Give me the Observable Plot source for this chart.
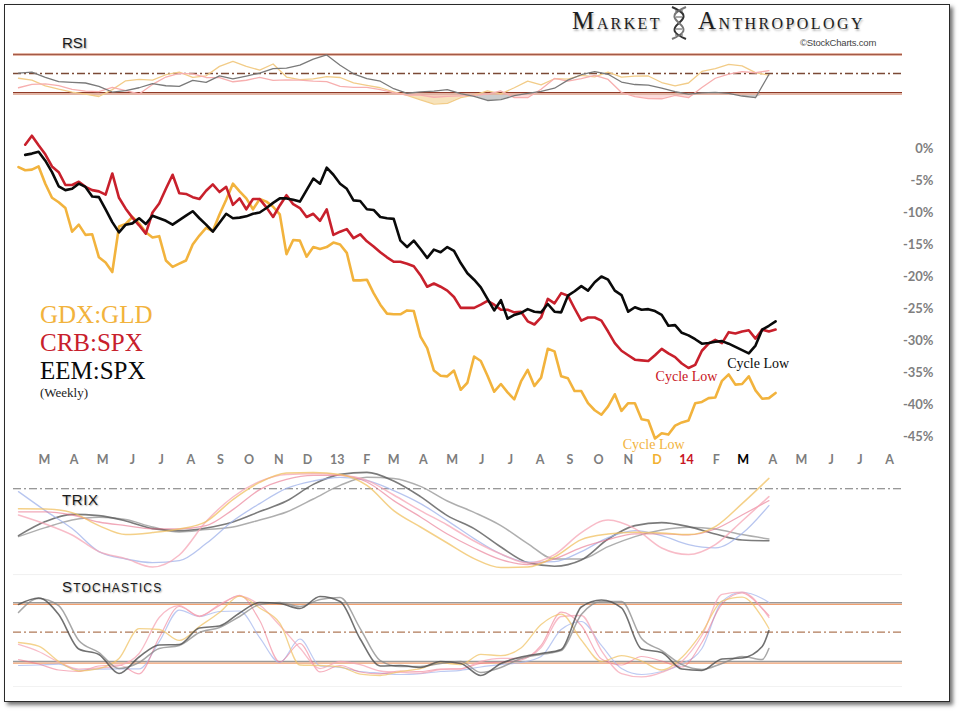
<!DOCTYPE html>
<html><head><meta charset="utf-8">
<script src="https://cdn.jsdelivr.net/npm/d3@7"></script>
<script src="https://cdn.jsdelivr.net/npm/@observablehq/plot@0.6"></script>
<style>
html,body{margin:0;padding:0;background:#fff;}
#page{position:relative;width:963px;height:713px;overflow:hidden;background:#fff;}
#frame{position:absolute;left:4px;top:4px;width:944px;height:696px;border:1.5px solid #2a2a2a;box-shadow:3px 3px 4px rgba(0,0,0,.55);}
.panel{position:absolute;left:0;}
.panel svg{overflow:visible;}
.lbl{position:absolute;font-family:"Liberation Sans",Arial,sans-serif;color:#1a1a1a;text-shadow:1px 1px 1.5px rgba(0,0,0,.35);white-space:nowrap;}
.leg{position:absolute;left:40px;font-family:"Liberation Serif","Times New Roman",serif;font-size:25px;line-height:25px;white-space:nowrap;}
#title{position:absolute;left:572px;top:7px;font-family:"Liberation Serif",serif;color:#1e1e1e;white-space:nowrap;text-shadow:1px 2px 2px rgba(0,0,0,.3);letter-spacing:2.4px;}
#title .big{font-size:25px;} #title .sm{font-size:16px;}
</style></head>
<body><div id="page">
<div id="frame"></div>
<div id="rsi" class="panel" style="top:40px"></div>
<div id="main" class="panel" style="top:110px"></div>
<div id="trix" class="panel" style="top:465px"></div>
<div id="stoch" class="panel" style="top:575px"></div>

<div id="title"><span class="big">M</span><span class="sm">ARKET</span><span style="display:inline-block;width:36px"></span><span class="big">A</span><span class="sm">NTHROPOLOGY</span></div>
<svg style="position:absolute;left:667px;top:6px" width="24" height="34" viewBox="0 0 24 34">
 <path d="M5,1 C19,7 19,11 12,17 C5,23 5,27 19,33" fill="none" stroke="#333" stroke-width="2"/>
 <path d="M19,1 C5,7 5,11 12,17 C19,23 19,27 5,33" fill="none" stroke="#777" stroke-width="2"/>
 <path d="M8,5 L16,5 M9,11 L15,11 M9,23 L15,23 M8,29 L16,29" stroke="#555" stroke-width="1"/>
</svg>
<div class="lbl" style="left:800px;top:37px;font-size:9.5px;color:#444;text-shadow:none;letter-spacing:-0.2px">©StockCharts.com</div>
<div class="lbl" style="left:62px;top:35px;font-size:15px;line-height:16px">RSI</div>
<div class="lbl" style="left:62px;top:492px;font-size:15px;line-height:16px;letter-spacing:0.6px">TRIX</div>
<div class="lbl" style="left:62px;top:579px;line-height:16px;letter-spacing:1.2px"><span style="font-size:15px">S</span><span style="font-size:12px">TOCHASTICS</span></div>

<div class="leg" style="top:302px;color:#F2B33D">GDX:GLD</div>
<div class="leg" style="top:330px;color:#C8202C">CRB:SPX</div>
<div class="leg" style="top:358px;color:#0a0a0a">EEM:SPX</div>
<div class="leg" style="top:386px;font-size:13px;line-height:13px;color:#222">(Weekly)</div>
</div>
<script>
// ---------- data ----------
const firstWeek = Date.UTC(2012, 1, 3); // weekly closes, week 0
// GDX:GLD, weeks 0..113 (% change)
const gdxGld = [-2.9,-3.4,-3.3,-2.8,-5.5,-7.7,-8.4,-9.3,-13.0,-11.9,
 -13.5,-13.4,-17.0,-17.8,-19.3,-12.2,-11.8,-10.7,-11.7,-13.1,
 -13.9,-13.7,-17.5,-18.5,-18.0,-17.5,-15.0,-13.6,-12.4,-12.9,
 -10.3,-8.0,-5.5,-6.7,-7.8,-9.5,-7.9,-8.3,-9.1,-10.3,
 -16.5,-14.3,-14.4,-16.9,-15.4,-15.7,-15.4,-14.7,-15.0,-16.3,
 -20.6,-20.6,-20.5,-22.6,-24.4,-25.8,-25.9,-25.9,-25.3,-25.4,
 -29.4,-31.2,-34.7,-35.5,-35.6,-34.7,-37.7,-36.6,-32.5,-33.2,
 -35.5,-38.0,-36.8,-38.1,-39.2,-36.4,-34.6,-37.1,-35.8,-31.3,
 -31.7,-35.6,-35.9,-37.9,-37.9,-39.8,-40.9,-41.6,-40.3,-38.4,
 -41.0,-39.8,-39.8,-42.3,-42.5,-45.3,-44.5,-44.7,-43.3,-42.8,
 -42.5,-39.8,-39.6,-39.0,-38.9,-36.3,-35.3,-36.9,-36.8,-35.6,
 -37.8,-39.1,-39.0,-38.2];
// CRB:SPX, weeks 1..113
const crbSpx = [0.6,2.0,0.5,-0.9,-2.8,-3.7,-5.7,-5.7,-5.2,-6.0,
 -6.5,-6.7,-7.2,-3.9,-7.7,-9.4,-10.8,-12.0,-13.3,-10.0,
 -8.6,-6.3,-4.1,-7.0,-7.1,-7.6,-7.9,-6.6,-5.6,-6.8,
 -6.0,-8.8,-7.8,-9.5,-7.9,-7.9,-9.2,-10.7,-8.9,-7.3,
 -8.7,-9.3,-10.7,-10.2,-11.3,-9.5,-13.5,-13.0,-12.6,-14.0,
 -13.4,-14.5,-15.3,-16.2,-17.0,-17.7,-17.7,-18.0,-18.4,-19.8,
 -21.6,-21.1,-21.6,-22.2,-23.2,-24.9,-24.9,-24.9,-24.4,-23.8,
 -24.4,-25.2,-25.2,-25.6,-25.5,-27.0,-27.5,-26.4,-23.5,-24.2,
 -22.6,-23.0,-25.0,-26.9,-26.4,-26.4,-26.9,-28.6,-30.4,-31.6,
 -32.3,-33.0,-33.1,-33.2,-32.3,-31.3,-32.0,-32.6,-33.6,-34.3,
 -33.8,-31.6,-30.5,-29.9,-30.4,-28.7,-28.9,-28.6,-28.4,-29.7,
 -28.3,-28.6,-28.3];
// EEM:SPX, weeks 1..113
const eemSpx = [-1.0,-0.8,-0.5,-1.9,-3.7,-5.9,-6.5,-6.3,-5.5,-6.0,
 -7.5,-7.6,-9.5,-11.5,-13.1,-11.9,-11.7,-10.9,-11.8,-10.5,
 -10.9,-11.3,-11.9,-11.2,-10.5,-9.8,-10.9,-11.9,-13.0,-11.6,
 -10.2,-10.9,-10.8,-10.6,-10.2,-10.0,-9.3,-8.5,-7.8,-7.8,
 -8.0,-8.3,-6.5,-4.7,-5.5,-3.0,-4.1,-5.5,-6.3,-8.1,
 -8.2,-9.5,-9.6,-10.7,-10.9,-11.0,-14.4,-15.4,-14.4,-15.7,
 -17.1,-15.8,-16.2,-15.4,-16.0,-17.9,-19.5,-20.5,-21.7,-23.5,
 -25.3,-23.7,-26.6,-26.0,-25.7,-25.1,-25.5,-25.6,-24.3,-25.5,
 -25.6,-23.0,-22.3,-21.5,-22.2,-20.9,-20.0,-20.5,-22.2,-22.9,
 -25.5,-24.8,-25.2,-25.1,-25.4,-26.0,-27.7,-27.6,-28.8,-29.2,
 -29.8,-30.5,-30.4,-30.2,-30.1,-30.5,-31.0,-31.5,-32.0,-30.8,
 -28.3,-27.7,-27.0];
const yTicks = [0,-5,-10,-15,-20,-25,-30,-35,-40,-45];
const monthLabels = ["M","A","M","J","J","A","S","O","N","D","13","F","M","A","M","J","J","A","S","O","N","D","14","F","M","A","M","J","J","A"];
const cycleLows = [
  {label:"Cycle Low", series:"GDX:GLD", week:94.8, v:-46.2},
  {label:"Cycle Low", series:"CRB:SPX", week:99.7, v:-35.6},
  {label:"Cycle Low", series:"EEM:SPX", week:110.4, v:-33.6}
];
// RSI (every 2 weeks, 0..112)
const rsiWeeks = d3.range(0, 113, 2);
const rsiEem = [50.3,51.5,46,41.5,40.7,40,36.5,30.5,32,35,39.3,37.1,36.5,42.8,40.7,47.5,44.3,47.3,50.4,55.2,
 55.6,58.9,65.2,69.5,58.7,49.7,44.7,41.9,34,29.2,30.6,31.4,33.1,28.7,26,21.6,22.5,26.6,29.1,31.1,
 34.5,43,48.7,52,49.2,41,38.4,37.8,34.7,30.8,28.2,29.6,30.1,29,26.3,24.5,49];
const rsiGdx = [45,43,37,33.5,30.5,28.2,25.8,33,42.3,43.8,43.1,48.7,51.4,46,47.6,57.5,62.7,57.4,53.6,60,
 46.3,43.5,44.3,46.8,45.8,40.2,37.5,35,30.7,27,22.2,17.8,18.5,24.7,27.2,31.8,28.5,35,42,38,
 44.5,44,48,46.5,51.5,46.2,47.2,47.4,40.5,37,40,52.2,55.2,59.6,58,51,48.2];
const rsiCrb = [35,38.5,39,37.2,33.4,31.5,30.9,35.5,32,28.5,38.5,46.3,50.1,49.7,45.8,45.7,41.3,42.9,45.9,42.8,
 43.3,43,42,41.5,36.4,35.5,35.5,33,29.8,27.2,27.2,25,26,26.4,26.9,28.2,31.6,24.6,24.5,33.5,
 44.8,42,44.5,48,43.7,30,25.6,23.5,23.4,27.1,24.5,35.3,45,49.3,52,50.8,53];
// TRIX (every 4 weeks, 0..112)
const trixWeeks = d3.range(0, 113, 4);
const trixGdx = [-1.00,-1.01,-1.19,-1.84,-2.29,-2.19,-2.01,-1.64,-0.54,0.32,0.79,0.82,0.72,0.17,-1.09,-1.91,-2.71,-3.49,-3.94,-3.91,-3.41,-2.54,-2.26,-2.17,-2.21,-2.29,-1.89,-0.74,0.52];
const trixCrbFast = [-1.31,-1.76,-2.31,-3.14,-3.49,-3.91,-3.31,-1.64,-0.41,0.37,0.72,0.75,0.69,0.42,-0.31,-1.09,-1.81,-2.61,-3.26,-3.71,-3.29,-2.19,-1.56,-1.99,-2.96,-3.29,-2.79,-1.61,-0.39];
const trixCrb = [-1.15,-1.15,-1.31,-1.66,-1.84,-2.00,-2.00,-1.84,-1.04,-0.04,0.47,0.67,0.67,0.34,-0.59,-1.41,-2.26,-2.96,-3.54,-3.79,-3.51,-2.94,-2.54,-2.25,-2.25,-2.30,-2.01,-1.31,-0.59];
const trixBlue = [-0.14,-1.09,-1.99,-3.14,-3.51,-3.69,-3.59,-2.74,-1.61,-0.74,0.02,0.39,0.57,0.42,-0.09,-0.74,-1.59,-2.49,-3.26,-3.67,-3.64,-3.14,-2.44,-2.09,-2.34,-2.79,-2.95,-2.24,-0.84];
const trixEem = [-2.34,-1.64,-1.28,-1.34,-1.61,-1.99,-2.09,-1.96,-1.66,-1.14,-0.61,0.22,0.72,0.82,0.39,-0.39,-1.34,-1.99,-2.91,-3.69,-3.87,-3.56,-2.51,-1.84,-1.69,-1.89,-2.26,-2.56,-2.60];
const trixEemSig = [-2.39,-1.94,-1.56,-1.42,-1.54,-1.91,-2.16,-2.04,-1.91,-1.56,-1.16,-0.51,0.17,0.58,0.52,0.12,-0.61,-1.18,-1.84,-2.74,-3.51,-3.51,-2.89,-2.39,-2.06,-1.92,-2.01,-2.29,-2.51];
// Stochastics (every 3 weeks, 0..111, then 112)
const stochWeeks = d3.range(0, 112, 3).concat([112]);
const stochEem = [78.3,84.9,68.0,32.8,27.2,7.7,24.6,36.9,37.4,54.2,56.3,69.6,80.3,79.3,74.2,86.4,81.3,43.0,15.4,15.9,
 13.9,20,18,5.7,18,24.6,28.2,32.3,75.7,82.9,74.7,32.8,29.2,12.3,10.8,22.6,23.6,35.3,51.7];
const stochEemSig = [70.1,84.4,77.2,41.5,29.2,12.8,19.0,33.3,36.4,49.6,54.7,66.0,78.3,80.3,76.2,83.4,85.4,53.7,21.0,14.9,
 14.9,18.0,20.0,8.8,13.9,23.1,27.2,31.2,68.0,81.3,81.3,43.5,31.2,16.9,11.8,18.0,25.1,22.0,33.3];
const stochGdx = [39.4,35.8,20,10.3,12.8,23.1,53.7,52.7,41.5,55.8,70.1,86.9,74.7,59.3,16.4,15.9,14.4,7.2,5.7,9.8,
 12.8,18.5,16.9,27.2,26.1,33.8,57.8,68.5,42.0,20,26.1,20.5,11.3,24.1,49.6,81.8,85.9,65.0,53.7];
const stochCrbFast = [37.4,30.2,19.5,12.3,13.4,15.9,28.2,65.0,77.2,66.0,78.3,86.9,77.7,56.8,33.8,12.8,20,16.9,10.3,8.8,
 8.2,11.8,12.5,20,23.1,23.1,34.3,66.0,67.0,31.2,7.7,4.2,8.8,20,46.6,88.5,91.0,74.2,65.0];
const stochCrb = [22.0,17.4,11.3,9.8,15.4,16.4,7.4,44.5,76.2,66.5,77.2,87.5,61.9,19.5,38.4,9.3,15.9,9.3,7.4,10.3,
 9.8,12.3,12.5,18,19.5,21.5,36.4,70.4,56.8,22.6,16.4,25.1,20.5,14.4,39.4,78.8,90.0,74.2,67.0];
const stochBlue = [15.9,16.4,17.4,11.3,12.3,12.5,12.5,40.4,72.6,66.0,71.1,71.6,44.5,19.0,43.0,15.4,13.9,9.8,8.2,6.7,
 7.7,9.8,11.0,14.4,16.9,19.0,25.1,52.7,60.9,36.4,12.8,6.7,9.8,17.4,33.3,81.3,90.8,84.4,80.3];

// ---------- helpers ----------
const wk = k => new Date(firstWeek + k * 7 * 86400000);
const series = (vals, start) => vals.map((v, i) => ({date: wk(start + i), v}));
const onGrid = (weeks, vals) => vals.map((v, i) => ({date: wk(weeks[i]), v}));
const xOpt = {type: "utc", domain: [wk(0), new Date(Date.UTC(2014, 7, 1))], range: [18, 889], axis: null};
const common = {width: 963, marginLeft: 13, marginRight: 61, marginTop: 0, marginBottom: 0,
  style: {background: "transparent", overflow: "visible"}, color: {type: "identity"}};

// ---------- main chart ----------
const monthTicks = monthLabels.map((label, i) => ({
  date: new Date(Date.UTC(2012, 2 + i, 1)), label,
  color: i === 21 ? "#F2B131" : i === 22 ? "#C8141E" : i === 24 ? "#000" : "#7d7d7d"
}));
const annColor = {"GDX:GLD": "#F2B33D", "CRB:SPX": "#C8141E", "EEM:SPX": "#0a0a0a"};
document.getElementById("main").append(Plot.plot({
  ...common, height: 370, marginRight: 30, marginBottom: 17,
  x: xOpt,
  y: {domain: [-45, 0], range: [326, 38], axis: null},
  marks: [
    Plot.text(yTicks, {y: d => d, text: d => d + "%", frameAnchor: "right", textAnchor: "end",
      fill: "#7f7f7f", fontSize: 13, fontWeight: "bold", fontFamily: "Lato, sans-serif"}),
    Plot.text(monthTicks, {x: "date", text: "label", frameAnchor: "bottom", fill: "color",
      fontSize: 12.5, fontWeight: "bold", fontFamily: "Lato, sans-serif"}),
    Plot.line(series(gdxGld, 0), {x: "date", y: "v", stroke: "#F2B33D", strokeWidth: 2.6}),
    Plot.line(series(crbSpx, 1), {x: "date", y: "v", stroke: "#C8202C", strokeWidth: 2.6}),
    Plot.line(series(eemSpx, 1), {x: "date", y: "v", stroke: "#0a0a0a", strokeWidth: 2.6}),
    Plot.text(cycleLows, {x: d => wk(d.week), y: "v", text: "label", fill: d => annColor[d.series],
      fontSize: 14, fontFamily: "Liberation Serif, serif"})
  ]
}));

// ---------- RSI ----------
const rsiSets = [
  {vals: rsiGdx, line: "#F2CC88", fill: "#F0C878"},
  {vals: rsiCrb, line: "#F7AFAF", fill: "#F9B8B8"},
  {vals: rsiEem, line: "#7a7a7a", fill: "#9a9a9a"}
];
document.getElementById("rsi").append(Plot.plot({
  ...common, height: 75,
  x: xOpt,
  y: {domain: [30, 70], range: [52, 14], axis: null},
  marks: [
    ...rsiSets.map(s => Plot.areaY(onGrid(rsiWeeks, s.vals), {x: "date", y1: 30, y2: d => Math.min(d.v, 30), fill: s.fill, fillOpacity: 0.5})),
    Plot.ruleY([70], {stroke: "#E2B4A4", strokeWidth: 3}),
    Plot.ruleY([70], {stroke: "#A45A48", strokeWidth: 1}),
    Plot.ruleY([30], {stroke: "#E2B4A4", strokeWidth: 3, dy: 1}),
    Plot.ruleY([30], {stroke: "#8E3A28", strokeWidth: 1.2}),
    Plot.ruleY([50], {stroke: "#7B4A36", strokeWidth: 1.3, strokeDasharray: "8 3 2 3"}),
    ...rsiSets.map(s => Plot.line(onGrid(rsiWeeks, s.vals), {x: "date", y: "v", stroke: s.line, strokeWidth: 1.3}))
  ]
}));

// ---------- TRIX ----------
const trixSets = [
  {vals: trixEemSig, stroke: "#9a9a9a", w: 1.5, o: 0.8},
  {vals: trixEem, stroke: "#5a5a5a", w: 1.6, o: 0.8},
  {vals: trixBlue, stroke: "#9FB2EA", w: 1.3, o: 0.75},
  {vals: trixCrb, stroke: "#E8708A", w: 1.3, o: 0.6},
  {vals: trixCrbFast, stroke: "#F5A5B5", w: 1.5, o: 0.75},
  {vals: trixGdx, stroke: "#F0C060", w: 1.5, o: 0.75}
];
document.getElementById("trix").append(Plot.plot({
  ...common, height: 115,
  x: xOpt,
  y: {domain: [-4, 1], range: [103.3, 3.3], axis: null},
  marks: [
    Plot.ruleY([0], {stroke: "#777", strokeWidth: 1.1, strokeDasharray: "8 3 2 3"}),
    Plot.ruleY([-4.29], {stroke: "#f0f0f0", strokeWidth: 1}),
    ...trixSets.map(s => Plot.line(onGrid(trixWeeks, s.vals), {x: "date", y: "v", stroke: s.stroke,
      strokeWidth: s.w, strokeOpacity: s.o, curve: "monotone-x"}))
  ]
}));

// ---------- Stochastics ----------
const stochSets = [
  {vals: stochBlue, stroke: "#A7B8EE", w: 1.2, o: 0.75},
  {vals: stochCrb, stroke: "#EE7088", w: 1.2, o: 0.55},
  {vals: stochCrbFast, stroke: "#F5A5B5", w: 1.3, o: 0.75},
  {vals: stochGdx, stroke: "#F0C468", w: 1.3, o: 0.75},
  {vals: stochEemSig, stroke: "#8a8a8a", w: 1.5, o: 0.75},
  {vals: stochEem, stroke: "#4e4e4e", w: 1.6, o: 0.8}
];
document.getElementById("stoch").append(Plot.plot({
  ...common, height: 115,
  x: xOpt,
  y: {domain: [20, 80], range: [86, 27.3], axis: null},
  marks: [
    Plot.ruleY([80, 20], {stroke: "#9a9a9a", strokeWidth: 1.6}),
    Plot.ruleY([80, 20], {stroke: "#F0A070", strokeWidth: 1.3, dy: 1.6}),
    Plot.ruleY([50], {stroke: "#B07A58", strokeWidth: 1.3, strokeDasharray: "8 3 2 3"}),
    Plot.ruleY([-5.6], {stroke: "#f2f2f2", strokeWidth: 1}),
    ...stochSets.map(s => Plot.line(onGrid(stochWeeks, s.vals), {x: "date", y: "v", stroke: s.stroke,
      strokeWidth: s.w, strokeOpacity: s.o, curve: "monotone-x"}))
  ]
}));
</script>
</body></html>
